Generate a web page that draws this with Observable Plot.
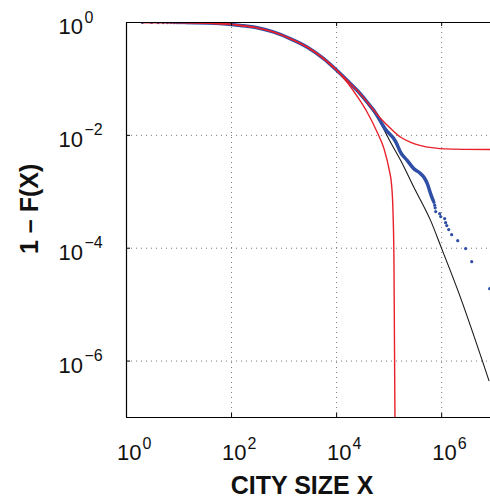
<!DOCTYPE html>
<html><head><meta charset="utf-8">
<script src="https://cdn.jsdelivr.net/npm/d3@7"></script>
<script src="https://cdn.jsdelivr.net/npm/@observablehq/plot@0.6"></script>
<style>body{margin:0;background:#fff}svg{display:block}</style>
</head><body><div id="chart"></div>
<script>
// tick values and labels
const xTicks = [1, 1e2, 1e4, 1e6];
const xExp = ["0", "2", "4", "6"];
const yTicks = [1, 1e-2, 1e-4, 1e-6];
const yExp = ["0", "−2", "−4", "−6"];

// shared head of the fitted curves
const fitHeadX = [2, 10, 30, 100, 148, 309, 640, 1330, 2770, 5730, 10140];
const fitHeadY = [1.0, 0.993, 0.975, 0.925, 0.885, 0.805, 0.673, 0.514, 0.365, 0.227, 0.141];

// black fit (tail)
const blackX = [16000, 24800, 38400, 59600, 107000, 166000, 297000, 617000, 1000000, 2040000, 7960000];
const blackY = [0.0937, 0.0598, 0.0366, 0.0207, 0.00745, 0.00357, 0.00119, 3.08e-4, 9.84e-5, 1.77e-5, 4.49e-7];

// red fit flattening
const redFlatX = [16000, 24800, 38400, 51300, 68900, 107000, 166000, 257000, 398000, 713000, 1110000, 8570000];
const redFlatY = [0.0937, 0.0623, 0.0386, 0.0275, 0.0199, 0.0132, 0.00925, 0.00754, 0.00659, 0.0060, 0.00577, 0.0056];

// red fit with cutoff
const redCutX = [16000, 24800, 38400, 59600, 79600, 99100, 111600, 119000, 123400, 125900, 129000];
const redCutY = [0.0863, 0.0487, 0.0254, 0.0112, 0.00583, 0.00258, 0.00129, 3.78e-4, 6.0e-5, 3.47e-6, 1e-7];

// empirical data: small sizes
const smallX = [2, 3, 4, 5, 6, 7, 8, 9, 10, 11, 12, 13, 14, 15, 16, 17, 18, 19];
const smallY = [1.0, 0.999, 0.998, 0.997, 0.996, 0.995, 0.994, 0.993, 0.992, 0.991, 0.99, 0.989, 0.988, 0.987, 0.986, 0.985, 0.985, 0.985];
// empirical data: dense band
const bandX = [20, 50, 100, 148, 309, 640, 1330, 2770, 5730, 10140, 16000, 24800, 38400, 51300, 85700, 133000, 166000, 222000, 297000, 370000, 460000, 535000, 617000, 680000];
const bandY = [0.985, 0.965, 0.92, 0.885, 0.805, 0.673, 0.514, 0.365, 0.227, 0.141, 0.0937, 0.0623, 0.0386, 0.0275, 0.0127, 0.00776, 0.00495, 0.00357, 0.00255, 0.00222, 0.00181, 0.00138, 0.000918, 0.000720];
// empirical data: largest cities
const tailX = [700000, 713000, 735000, 752000, 769000, 917000, 958000, 1140000, 1190000, 1250000, 1360000, 1550000, 2020000, 2860000, 3730000, 8200000];
const tailY = [6.9e-4, 6.5e-4, 5.8e-4, 5.2e-4, 4.46e-4, 4.1e-4, 3.63e-4, 3.35e-4, 2.84e-4, 2.52e-4, 2.14e-4, 1.74e-4, 1.36e-4, 9.84e-5, 5.78e-5, 1.92e-5];

const zip = (X, Y) => X.map((x, i) => ({x, y: Y[i]}));
const head = zip(fitHeadX, fitHeadY);
const black = head.concat(zip(blackX, blackY));
const redFlat = head.concat(zip(redFlatX, redFlatY));
const redCut = head.concat(zip(redCutX, redCutY));
const band = zip(bandX, bandY);
const dots = zip(smallX, smallY).concat(zip(tailX, tailY));

const BLUE = "#2f4ea6", RED = "#e8202a";
const FONT = "'Liberation Sans', Arial, Helvetica, sans-serif";

const chart = Plot.plot({
  width: 490, height: 498,
  marginLeft: 126, marginRight: 0, marginTop: 22, marginBottom: 81,
  style: {fontFamily: FONT, background: "#fff", overflow: "visible", color: "#000"},
  x: {type: "log", domain: [1, 8.5e6], axis: null},
  y: {type: "log", domain: [1e-7, 1], axis: null},
  marks: [
    Plot.ruleX(xTicks.slice(1), {x: d => d, stroke: "#777", strokeDasharray: "1,4", strokeWidth: 1}),
    Plot.ruleY(yTicks.slice(1), {y: d => d, stroke: "#777", strokeDasharray: "1,4", strokeWidth: 1}),
    Plot.line(black, {x: "x", y: "y", stroke: "#1a1a1a", strokeWidth: 1.1, curve: "monotone-x", clip: true}),
    Plot.line(band, {x: "x", y: "y", stroke: BLUE, strokeWidth: 3.5, curve: "monotone-x", clip: true}),
    Plot.dot(dots, {x: "x", y: "y", r: 1.6, fill: BLUE, stroke: null, clip: true}),
    Plot.line(redFlat, {x: "x", y: "y", stroke: RED, strokeWidth: 1.4, curve: "monotone-x", clip: true}),
    Plot.line(redCut, {x: "x", y: "y", stroke: RED, strokeWidth: 1.4, curve: "monotone-x", clip: true}),
    // inward ticks
    Plot.ruleX(xTicks, {x: d => d, stroke: "#000", insetTop: 391}),
    Plot.ruleX(xTicks, {x: d => d, stroke: "#000", insetBottom: 391}),
    Plot.ruleY(yTicks, {y: d => d, stroke: "#000", insetRight: 360}),
    // axis lines
    Plot.ruleX([1], {stroke: "#000", strokeWidth: 1.2}),
    Plot.ruleY([1e-7], {stroke: "#000", strokeWidth: 1.2}),
    Plot.ruleY([1], {stroke: "#000", strokeWidth: 1.2}),
    // tick labels
    Plot.text(xTicks, {x: d => d, frameAnchor: "bottom", text: () => "10", textAnchor: "start", lineAnchor: "bottom", dx: -9.5, dy: 42, fontSize: 22, fill: "#111"}),
    Plot.text(xTicks.map((v, i) => ({v, e: xExp[i]})), {x: "v", frameAnchor: "bottom", text: "e", textAnchor: "start", lineAnchor: "bottom", dx: 16, dy: 31, fontSize: 16, fill: "#111"}),
    Plot.text(yTicks, {y: d => d, frameAnchor: "left", text: () => "10", textAnchor: "start", lineAnchor: "bottom", dx: -68, dy: 11.5, fontSize: 22, fill: "#111"}),
    Plot.text(yTicks.map((v, i) => ({v, e: yExp[i]})), {y: "v", frameAnchor: "left", text: "e", textAnchor: "start", lineAnchor: "bottom", dx: -42, dy: 0, fontSize: 16, fill: "#111"}),
    // axis titles
    Plot.text(["CITY SIZE X"], {frameAnchor: "bottom", text: d => d, lineAnchor: "bottom", dx: -6.5, dy: 76, fontSize: 25, fontWeight: "bold", fill: "#111"}),
    Plot.text(["1 – F(X)"], {frameAnchor: "left", text: d => d, rotate: -90, lineAnchor: "bottom", dx: -89, dy: 34, fontSize: 25, fontWeight: "bold", fill: "#111"})
  ]
});
document.getElementById("chart").appendChild(chart);
</script>
</body></html>
